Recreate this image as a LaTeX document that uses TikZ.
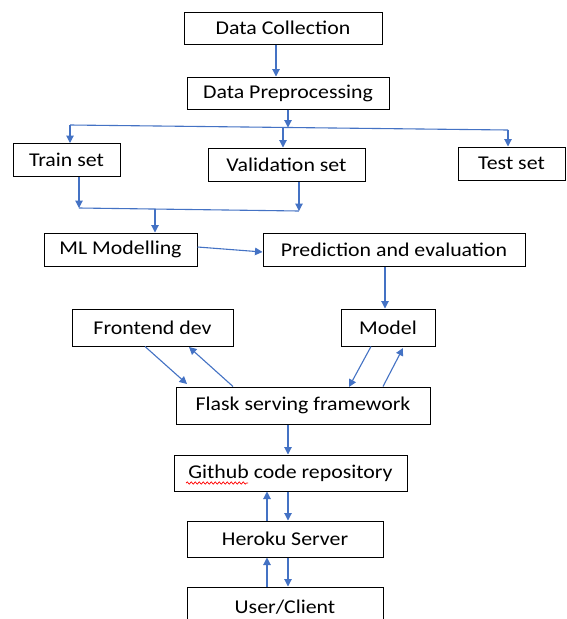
\documentclass[tikz,border=0pt]{standalone}
\usepackage{fontspec}
\setmainfont{Carlito}[FakeStretch=1.12]
\usetikzlibrary{arrows.meta,calc,decorations.pathmorphing}
\definecolor{arrblue}{RGB}{68,114,196}
\begin{document}
\begin{tikzpicture}[x=1pt,y=-1pt,
  box/.style={draw=black, line width=1pt, inner sep=0pt, anchor=center,
    font=\fontsize{19.5}{23}\selectfont, text=black},
  arr/.style={draw=arrblue, line width=1.1pt, -{Triangle[length=7.5pt,width=7.5pt]}},
  ln/.style={draw=arrblue, line width=1.1pt}]
\clip (0,0) rectangle (567,619);
\fill[white] (0,0) rectangle (567,619);
% boxes
\node[box, minimum width=198pt, minimum height=32pt] (dc) at (283,28) {Data Collection};
\node[box, minimum width=202pt, minimum height=32pt] (dp) at (288,93) {Data Preprocessing};
\node[box, minimum width=107pt, minimum height=33pt] (train) at (66.5,160) {Train set};
\node[box, minimum width=157pt, minimum height=33pt] (val) at (286.5,164.5) {Validation set};
\node[box, minimum width=107pt, minimum height=33pt] (test) at (511.5,163.5) {Test set};
\node[box, minimum width=153pt, minimum height=33pt] (ml) at (120.5,249.5) {ML Modelling};
\node[box, minimum width=262pt, minimum height=33pt] (pred) at (394,249.5) {Prediction and evaluation};
\node[box, minimum width=161pt, minimum height=37pt] (front) at (152.5,327.5) {Frontend dev};
\node[box, minimum width=94pt, minimum height=37pt] (model) at (388,327.5) {Model};
\node[box, minimum width=254pt, minimum height=37pt] (flask) at (303,405.5) {Flask serving framework};
\node[box, minimum width=233pt, minimum height=36pt] (git) at (290.5,473) {Github code repository};
\node[box, minimum width=196pt, minimum height=36pt] (her) at (285,539) {Heroku Server};
\node[box, minimum width=196pt, minimum height=40pt] (user) at (285,607) {User/Client};
% spell-check squiggle
\draw[red, line width=0.7pt, decorate, decoration={snake, amplitude=1.1pt, segment length=4pt}]
  (186,483) -- (248,483);
% top flow
\draw[arr] (dc.south -| 276,0) -- (dp.north -| 276,0);
\coordinate (jl) at (70,125);
\coordinate (jr) at (508,130);
\coordinate (jm) at (288,127.5);
\coordinate (jv) at (283,127.4);
\draw[arr] (dp.south -| jm) -- (jm);
\draw[ln] (jl) -- (jr);
\draw[arr] (jl) -- (train.north -| jl);
\draw[arr] (jv) -- (val.north -| jv);
\draw[arr] (jr) -- (test.north -| jr);
% merge
\coordinate (ml1) at (79,208);
\coordinate (ml2) at (299,211);
\coordinate (mm) at (155,209);
\draw[arr] (train.south -| ml1) -- (ml1);
\draw[arr] (val.south -| ml2) -- (ml2);
\draw[ln] (ml1) -- (ml2);
\draw[arr] (mm) -- (ml.north -| mm);
% ML -> prediction
\draw[arr] (ml.east |- 0,247) -- (pred.west |- 0,252);
\draw[arr] (pred.south -| 385,0) -- (model.north -| 385,0);
% frontend <-> flask
\draw[arr] (front.south -| 145,0) -- (187,384);
\draw[arr] (flask.north -| 233,0) -- (189,347);
% model <-> flask
\draw[arr] (model.south -| 371,0) -- (349,387);
\draw[arr] (flask.north -| 383,0) -- (403,348);
% lower chain
\draw[arr] (flask.south -| 288,0) -- (git.north -| 288,0);
\draw[arr] (her.north -| 267,0) -- (git.south -| 267,0);
\draw[arr] (git.south -| 288,0) -- (her.north -| 288,0);
\draw[arr] (user.north -| 267,0) -- (her.south -| 267,0);
\draw[arr] (her.south -| 288,0) -- (user.north -| 288,0);
\end{tikzpicture}
\end{document}
